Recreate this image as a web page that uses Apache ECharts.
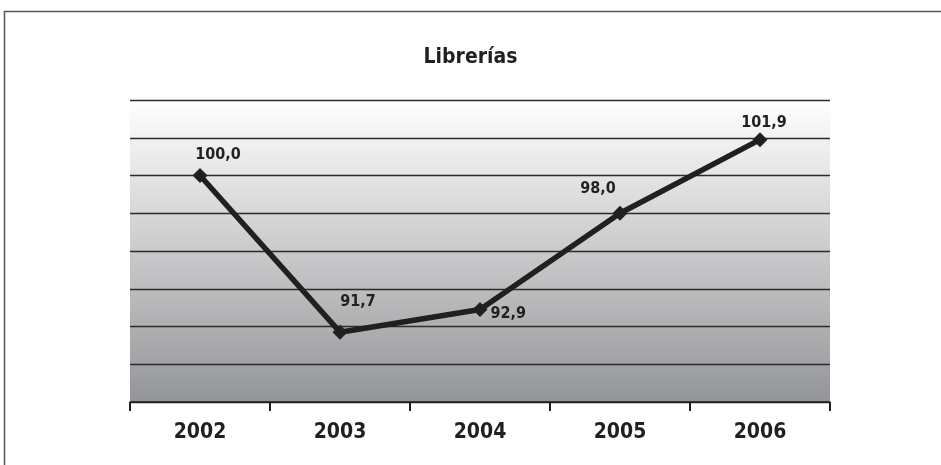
<!DOCTYPE html>
<html>
<head>
<meta charset="utf-8">
<script src="https://cdn.jsdelivr.net/npm/echarts@6/dist/echarts.min.js"></script>
<style>
  html, body { margin: 0; padding: 0; background: #fff; }
  #chart { width: 941px; height: 465px; }
</style>
</head>
<body>
<div id="chart"></div>
<script>
const years = ["2002", "2003", "2004", "2005", "2006"];
const values = [100.0, 91.7, 92.9, 98.0, 101.9];
// where each value label sits relative to its point
const labelPos = ["top", "top", "right", "top", "top"];
const labelSpots = [[18, 0], [18, -10], [-2, 4], [-22, -4], [4, 4]];

const FONT = "'Liberation Sans Narrow', 'DejaVu Sans Condensed', sans-serif";

const chart = echarts.init(document.getElementById("chart"));

const option = {
  animation: false,
  title: {
    text: "Librerías",
    left: "center",
    top: 42,
    textStyle: { fontFamily: FONT, fontSize: 21, fontWeight: "bold", color: "#231f20" },
  },
  graphic: [
    {
      type: "polyline",
      shape: { points: [[4.5, 465], [4.5, 11.5], [941, 11.5]] },
      style: { stroke: "#555", lineWidth: 1.5, fill: null },
    },
  ],
  grid: {
    left: 130,
    right: 111,
    top: 100,
    bottom: 63,
    show: true,
    borderWidth: 0,
    backgroundColor: new echarts.graphic.LinearGradient(0, 0, 0, 1, [
      { offset: 0, color: "#ffffff" },
      { offset: 1, color: "#949598" },
    ]),
  },
  xAxis: {
    type: "category",
    data: years,
    boundaryGap: true,
    axisLine: { lineStyle: { color: "#231f20", width: 1.5 } },
    axisTick: { show: true, length: 9, lineStyle: { color: "#231f20", width: 2 } },
    axisLabel: {
      margin: 20,
      fontFamily: FONT,
      fontSize: 21,
      fontWeight: "bold",
      color: "#231f20",
    },
  },
  yAxis: {
    type: "value",
    min: 88,
    max: 104,
    interval: 2,
    axisLine: { show: false },
    axisTick: { show: false },
    axisLabel: { show: false },
    splitLine: { lineStyle: { color: "#2b2b2b", width: 1.3 } },
  },
  series: [
    {
      type: "line",
      data: values.map((v, i) => ({
        value: v,
        label: { position: labelPos[i], offset: labelSpots[i] },
      })),
      symbol: "diamond",
      symbolSize: 15,
      lineStyle: { color: "#231f20", width: 5.5 },
      itemStyle: { color: "#231f20" },
      label: {
        show: true,
        fontFamily: FONT,
        fontSize: 16,
        fontWeight: "bold",
        color: "#231f20",
        formatter: (p) => p.value.toFixed(1).replace(".", ","),
      },
    },
  ],
};

chart.setOption(option);
</script>
</body>
</html>
